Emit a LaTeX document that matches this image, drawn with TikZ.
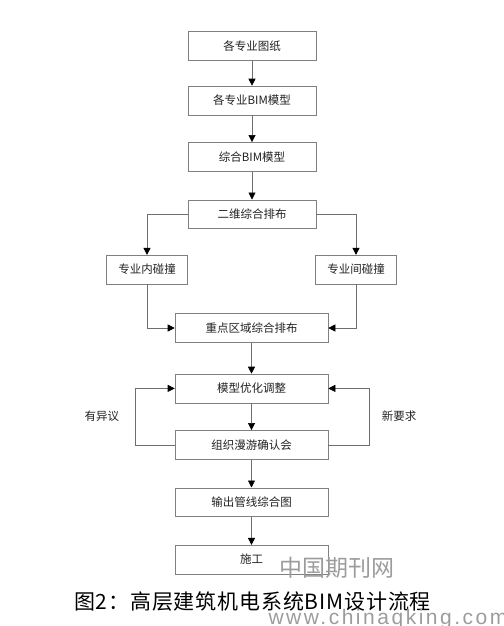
\documentclass[tikz,border=0pt]{standalone}
\usepackage{fontspec}
\setmainfont{Noto Sans CJK SC}
\newfontfamily\capfont[LetterSpace=4]{Noto Sans CJK SC}
\newfontfamily\wmfont[LetterSpace=12]{Liberation Sans}
\usetikzlibrary{positioning, arrows.meta, calc}
\definecolor{boxline}{HTML}{808080}
\definecolor{flowline}{HTML}{6E6E6E}
\definecolor{textmain}{HTML}{222222}
\definecolor{mark}{HTML}{9C9C9C}

\begin{document}
\begin{tikzpicture}[
    x=1pt, y=-1pt,
    node distance=28pt,
    stage/.style={rectangle, draw=boxline, fill=white, text=textmain, line width=0.6pt,
                  minimum width=128pt, minimum height=28.8pt, inner sep=0pt,
                  font=\fontsize{11.5}{13}\selectfont},
    widestage/.style={stage, minimum width=153pt},
    check/.style={stage, minimum width=81pt},
    arrow/.style={-{Triangle[length=7pt, width=7pt, color=black]}, line width=0.6pt, draw=flowline}
  ]
    \useasboundingbox (0,0) rectangle (503,626);

    \node[stage] (drawings) at (252,46) {各专业图纸};
    \node[stage, below=25pt of drawings] (models) {各专业BIM模型};
    \node[stage, below=27pt of models] (merged) {综合BIM模型};
    \node[stage, below=of merged] (layout2d) {二维综合排布};
    \node[check, below=26pt of layout2d, xshift=-105pt] (clashin) {专业内碰撞};
    \node[check, below=26pt of layout2d, xshift=104pt] (clashout) {专业间碰撞};
    \node[widestage, below=29pt of clashin, xshift=104.5pt] (keyarea) {重点区域综合排布};
    \node[widestage, below=31pt of keyarea] (tuning) {模型优化调整};
    \node[widestage, below=27pt of tuning] (review) {组织漫游确认会};
    \node[widestage, below=of review] (output) {输出管线综合图};
    \node[widestage, below=of output] (build) {施工};

    \draw[arrow] (drawings) -- (models);
    \draw[arrow] (models) -- (merged);
    \draw[arrow] (merged) -- (layout2d);
    \draw[arrow] (layout2d.west) -| (clashin);
    \draw[arrow] (layout2d.east) -| (clashout);
    \draw[arrow] (clashin) |- (keyarea);
    \draw[arrow] (clashout) |- (keyarea);
    \draw[arrow] (keyarea) -- (tuning);
    \draw[arrow] (tuning) -- (review);
    \draw[arrow] (review.west) -- ++(-39,0) |- node[pos=0.25, left=13pt, text=textmain,
      font=\fontsize{11.5}{13}\selectfont] (objection) {有异议} (tuning.west);
    \draw[arrow] (review.east) -- ++(41,0) |- node[pos=0.25, right=9pt, text=textmain,
      font=\fontsize{11.5}{13}\selectfont] (newreq) {新要求} (tuning.east);
    \draw[arrow] (review) -- (output);
    \draw[arrow] (output) -- (build);

    % caption and watermark
    \node[font=\capfont\fontsize{21}{24}\selectfont] (caption) at (252.5,602) {图2：高层建筑机电系统BIM设计流程};
    \node[text=mark, font=\fontsize{23}{26}\selectfont] (wmcn) at (337,568) {中国期刊网};
    \node[text=mark, font=\wmfont\fontsize{21}{24}\selectfont] (wmurl) at (388,619) {www.chinaqking.com};
\end{tikzpicture}
\end{document}
